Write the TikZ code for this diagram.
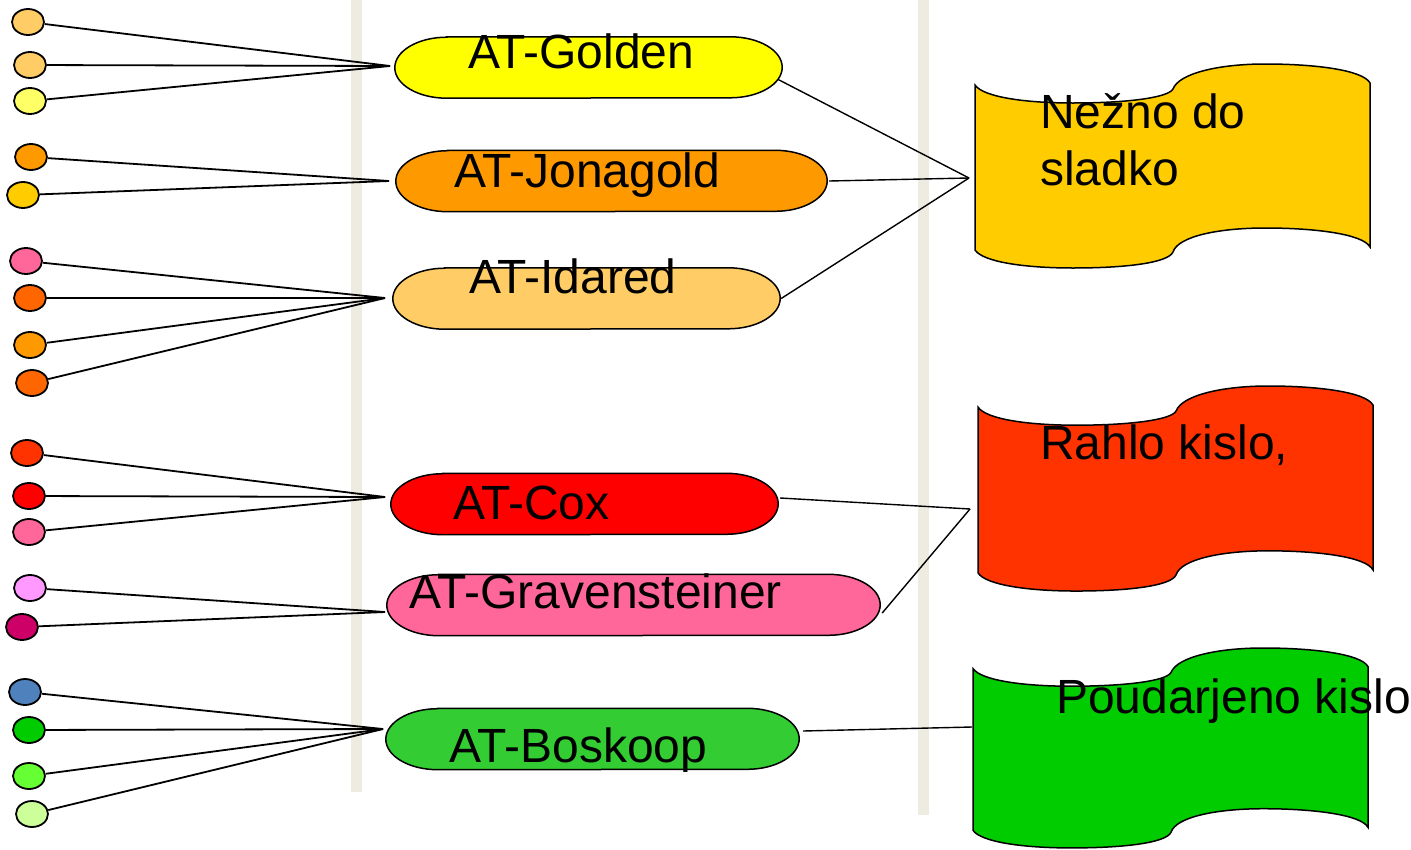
\documentclass[tikz,border=0pt]{standalone}
\usepackage{fontspec}
\setmainfont{Liberation Sans}
\usetikzlibrary{calc,shapes.geometric}
\definecolor{barc}{HTML}{EEECE1}
\definecolor{cA}{HTML}{FFCC66}
\definecolor{cB}{HTML}{FFFF66}
\definecolor{cC}{HTML}{FF9900}
\definecolor{cD}{HTML}{FFCC00}
\definecolor{cE}{HTML}{FF6699}
\definecolor{cF}{HTML}{FF6600}
\definecolor{cG}{HTML}{FF3300}
\definecolor{cH}{HTML}{FF0000}
\definecolor{cI}{HTML}{FF99FF}
\definecolor{cJ}{HTML}{CC0066}
\definecolor{cK}{HTML}{4F81BD}
\definecolor{cL}{HTML}{00CC00}
\definecolor{cM}{HTML}{66FF33}
\definecolor{cN}{HTML}{CCFF99}
\definecolor{pGolden}{HTML}{FFFF00}
\definecolor{pJona}{HTML}{FF9900}
\definecolor{pIda}{HTML}{FFCC66}
\definecolor{pCox}{HTML}{FF0000}
\definecolor{pGrav}{HTML}{FF6699}
\definecolor{pBosk}{HTML}{33CC33}
\definecolor{bYel}{HTML}{FFCC00}
\definecolor{bRed}{HTML}{FF3300}
\definecolor{bGrn}{HTML}{00CC00}
\tikzset{
  apple/.style={ellipse, draw=black, line width=1.8pt, minimum width=32pt, minimum height=26pt, inner sep=0pt},
  pillnode/.style={rectangle, inner sep=0pt, minimum height=61pt},
  pillline/.style={draw=black, line width=1.5pt},
  lbl/.style={inner sep=0pt, font=\fontsize{48}{58}\selectfont},
  leftline/.style={draw=black, line width=1.8pt},
  rightline/.style={draw=black, line width=1.4pt},
  wave/.style={draw=black, line width=1.5pt}
}
\newcommand\pillat[5]{%
  \node[pillnode, minimum width=#4pt] (#1) at (#2,#3) {};
  \draw[pillline, fill=#5] ([xshift=52pt]#1.north west) -- ([xshift=-52pt]#1.north east)
    arc[start angle=90,end angle=-90,x radius=52pt,y radius=30.5pt]
    -- ([xshift=52pt]#1.south west)
    arc[start angle=270,end angle=90,x radius=52pt,y radius=30.5pt] -- cycle;}
\newcommand\bannerat[5]{%
  \begin{scope}[shift={(#2,#3)}, yscale=#5]
    \draw[wave, fill=#4] (0,21) .. controls (8,33) and (50,39) .. (98,39)
      .. controls (150,39) and (193,34) .. (198,25)
      .. controls (204,9) and (245,0) .. (290,0)
      .. controls (340,0) and (388,6) .. (395,19)
      -- (395,183)
      .. controls (388,170) and (340,164) .. (290,164)
      .. controls (245,164) and (203,172) .. (198,188)
      .. controls (193,199) and (150,204) .. (98,204)
      .. controls (50,204) and (8,198) .. (0,186) -- cycle;
    \node[inner sep=0pt, minimum width=395pt, minimum height=204pt] (#1) at (197.5,102) {};
  \end{scope}}
\begin{document}
\begin{tikzpicture}[x=1pt, y=-1pt]
\path[use as bounding box] (0,0) rectangle (1411,849);
% gray bars
\fill[barc] (351,0) rectangle (362,792);
\fill[barc] (918,0) rectangle (929,815);
% apples
\node[apple, fill=cA] (c1) at (28,22) {};
\node[apple, fill=cA] (c2) at (30,65) {};
\node[apple, fill=cB] (c3) at (30,101) {};
\node[apple, fill=cC] (c4) at (31,157) {};
\node[apple, fill=cD] (c5) at (23,195) {};
\node[apple, fill=cE] (c6) at (26,261) {};
\node[apple, fill=cF] (c7) at (30,298) {};
\node[apple, fill=cC] (c8) at (30,345) {};
\node[apple, fill=cF] (c9) at (32,383) {};
\node[apple, fill=cG] (c10) at (27,453) {};
\node[apple, fill=cH] (c11) at (29,496) {};
\node[apple, fill=cE] (c12) at (29,532) {};
\node[apple, fill=cI] (c13) at (30,588) {};
\node[apple, fill=cJ] (c14) at (22,627) {};
\node[apple, fill=cK] (c15) at (25,692) {};
\node[apple, fill=cL] (c16) at (29,730) {};
\node[apple, fill=cM] (c17) at (29,776) {};
\node[apple, fill=cN] (c18) at (32,814) {};
% convergence points
\coordinate (gIn) at (390,66);
\coordinate (jIn) at (389,181);
\coordinate (iIn) at (385,298);
\coordinate (cIn) at (385,497);
\coordinate (grIn) at (385,612);
\coordinate (bIn) at (383,729);
% left lines
\draw[leftline] (c1) -- (gIn);
\draw[leftline] (c2) -- (gIn);
\draw[leftline] (c3) -- (gIn);
\draw[leftline] (c4) -- (jIn);
\draw[leftline] (c5) -- (jIn);
\draw[leftline] (c6) -- (iIn);
\draw[leftline] (c7) -- (iIn);
\draw[leftline] (c8) -- (iIn);
\draw[leftline] (c9) -- (iIn);
\draw[leftline] (c10) -- (cIn);
\draw[leftline] (c11) -- (cIn);
\draw[leftline] (c12) -- (cIn);
\draw[leftline] (c13) -- (grIn);
\draw[leftline] (c14) -- (grIn);
\draw[leftline] (c15) -- (bIn);
\draw[leftline] (c16) -- (bIn);
\draw[leftline] (c17) -- (bIn);
\draw[leftline] (c18) -- (bIn);
% pills
\pillat{golden}{588.5}{67.5}{387}{pGolden}
\pillat{jona}{611.5}{181}{431}{pJona}
\pillat{ida}{586.5}{298.5}{387}{pIda}
\pillat{cox}{584.5}{504}{387}{pCox}
\pillat{grav}{633.5}{605}{493}{pGrav}
\pillat{bosk}{592.5}{739}{413}{pBosk}
\node[lbl, anchor=base west] (tGolden) at (468,68) {AT-Golden};
\node[lbl, anchor=base west] (tJona) at (454,187) {AT-Jonagold};
\node[lbl, anchor=base west] (tIda) at (469,293) {AT-Idared};
\node[lbl, anchor=base west] (tCox) at (453,519) {AT-Cox};
\node[lbl, anchor=base west] (tGrav) at (409,608) {AT-Gravensteiner};
\node[lbl, anchor=base west] (tBosk) at (449,762) {AT-Boskoop};
% banners
\bannerat{b1}{975}{64}{bYel}{1}
\bannerat{b2}{978}{386}{bRed}{1.005}
\bannerat{b3}{973}{648}{bGrn}{0.98}
\coordinate (b1in) at (969,178);
\coordinate (b2in) at (970,509);
\coordinate (b3in) at (972,727);
\draw[rightline] ([xshift=-4pt,yshift=-12pt]golden.east) -- (b1in);
\draw[rightline] ([xshift=2pt]jona.east) -- (b1in);
\draw[rightline] ([xshift=1pt]ida.east) -- (b1in);
\draw[rightline] ([xshift=2pt,yshift=6pt]cox.east) -- (b2in);
\draw[rightline] ([xshift=2pt,yshift=-8pt]grav.east) -- (b2in);
\draw[rightline] ([xshift=4pt,yshift=8pt]bosk.east) -- (b3in);
% banner texts
\node[lbl, anchor=base west] (tN1) at (1040,128) {Nežno do};
\node[lbl, anchor=base west] (tN2) at (1040,185) {sladko};
\node[lbl, anchor=base west] (tR) at (1040,459) {Rahlo kislo,};
\node[lbl, anchor=base west] (tP) at (1056,713) {Poudarjeno kislo};
\end{tikzpicture}
\end{document}
